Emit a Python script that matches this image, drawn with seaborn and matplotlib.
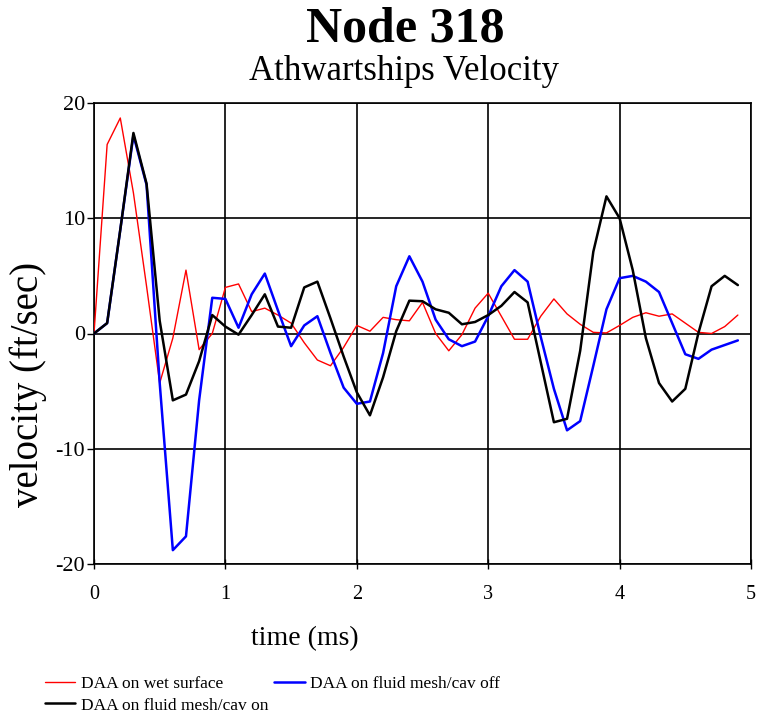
import numpy as np
import pandas as pd
import matplotlib
matplotlib.use("Agg")
import matplotlib.pyplot as plt
import seaborn as sns

time_ms = [0.0, 0.1, 0.2, 0.3, 0.4, 0.5, 0.6, 0.7, 0.8, 0.9,
           1.0, 1.1, 1.2, 1.3, 1.4, 1.5, 1.6, 1.7, 1.8, 1.9,
           2.0, 2.1, 2.2, 2.3, 2.4, 2.5, 2.6, 2.7, 2.8, 2.9,
           3.0, 3.1, 3.2, 3.3, 3.4, 3.5, 3.6, 3.7, 3.8, 3.9,
           4.0, 4.1, 4.2, 4.3, 4.4, 4.5, 4.6, 4.7, 4.8, 4.9]

wet_surface = [0.0, 16.4, 18.7, 12.2, 4.1, -4.3, -0.4, 5.5, -1.4, 0.0,
               4.0, 4.3, 1.9, 2.2, 1.6, 0.9, -0.8, -2.3, -2.8, -1.2,
               0.7, 0.2, 1.4, 1.2, 1.1, 2.7, 0.0, -1.5, -0.1, 2.2,
               3.5, 1.5, -0.5, -0.5, 1.5, 3.0, 1.7, 0.8, 0.1, 0.05,
               0.7, 1.4, 1.8, 1.5, 1.7, 0.9, 0.1, 0.0, 0.6, 1.6]

cav_off = [0.0, 0.9, 9.0, 17.2, 12.9, -4.3, -18.8, -17.6, -5.8, 3.1,
           3.0, 0.5, 3.4, 5.2, 2.0, -1.1, 0.7, 1.5, -1.7, -4.7,
           -6.1, -5.9, -1.7, 4.1, 6.7, 4.5, 1.2, -0.5, -1.1, -0.7,
           1.5, 4.1, 5.5, 4.5, -0.3, -4.8, -8.4, -7.6, -2.8, 2.1,
           4.8, 5.0, 4.5, 3.6, 0.9, -1.8, -2.2, -1.4, -1.0, -0.6]

cav_on = [0.0, 0.9, 9.0, 17.4, 13.0, 1.1, -5.8, -5.3, -2.4, 1.6,
          0.6, -0.1, 1.6, 3.4, 0.6, 0.5, 4.0, 4.5, 1.3, -2.0,
          -5.1, -7.1, -3.8, 0.2, 2.85, 2.8, 2.1, 1.8, 0.8, 1.0,
          1.6, 2.4, 3.6, 2.7, -2.5, -7.7, -7.4, -1.5, 7.1, 11.9,
          10.0, 5.5, -0.4, -4.3, -5.9, -4.8, 0.05, 4.1, 5.0, 4.2]

series_names = ["DAA on wet surface", "DAA on fluid mesh/cav off", "DAA on fluid mesh/cav on"]
x_ticks = [0, 1, 2, 3, 4, 5]
y_ticks = [-20, -10, 0, 10, 20]

sns.set_style("white")
plt.rcParams["font.family"] = ["Liberation Serif", "DejaVu Serif"]
plt.rcParams["text.color"] = "black"
plt.rcParams["xtick.color"] = "black"
plt.rcParams["ytick.color"] = "black"
plt.rcParams["axes.labelcolor"] = "black"

fig = plt.figure(figsize=(7.59, 7.19), dpi=100)
ax = fig.add_axes([94 / 759, 1 - 564 / 719, 657 / 759, 461 / 719])

styles = {
    series_names[0]: dict(color="#ff0000", lw=1.0),
    series_names[1]: dict(color="#0000ff", lw=1.8),
    series_names[2]: dict(color="#000000", lw=1.8),
}
data_by_name = {series_names[0]: wet_surface, series_names[1]: cav_off, series_names[2]: cav_on}

for name in series_names:
    df = pd.DataFrame({"time": time_ms, "velocity": data_by_name[name]})
    sns.lineplot(data=df, x="time", y="velocity", ax=ax, color=styles[name]["color"],
                 linewidth=styles[name]["lw"], label=name, legend=False, zorder=3)

ax.set_xlim(0, 5)
ax.set_ylim(-20, 20)
ax.set_xticks(x_ticks)
ax.set_yticks(y_ticks)
ax.set_xticklabels([str(v) for v in x_ticks], fontsize=14.5, color="black")
ax.set_yticklabels([str(v) for v in y_ticks], fontsize=16, color="black")
ax.grid(True, color="black", linewidth=1.2, zorder=1)
ax.set_axisbelow(True)
for s in ax.spines.values():
    s.set_color("black")
    s.set_linewidth(1.2)
ax.tick_params(axis="x", direction="inout", length=6.5, width=1.0, pad=12, colors="black", bottom=True)
ax.tick_params(axis="y", direction="out", length=5, width=1.0, pad=1.5, colors="black", left=True)
ax.set_xlabel("")
ax.set_ylabel("")

fig.text(405 / 759, 1 - 29 / 719, "Node 318", ha="center", va="center", fontsize=36,
         fontweight="bold", color="black")
fig.text(404 / 759, 1 - 71 / 719, "Athwartships Velocity", ha="center", va="center",
         fontsize=25, color="black")
fig.text(28 / 759, 1 - 384 / 719, "velocity (ft/sec)", ha="center", va="center", rotation=90,
         fontsize=28, color="black")
fig.text(305 / 759, 1 - 639 / 719, "time (ms)", ha="center", va="center", fontsize=20, color="black")

lines = ax.get_lines()
handle_map = {l.get_label(): l for l in lines}
order = [series_names[0], series_names[2], series_names[1]]
leg = fig.legend([handle_map[n] for n in order], order, loc="upper left",
                 bbox_to_anchor=(45 / 759, 1 - 676 / 719), ncol=2, frameon=False,
                 fontsize=12.5, handlelength=1.75, handletextpad=0.3, columnspacing=0.35,
                 labelspacing=0.3, borderpad=0, borderaxespad=0)
for t in leg.get_texts():
    t.set_color("black")

fig.savefig("out.png", dpi=100)
